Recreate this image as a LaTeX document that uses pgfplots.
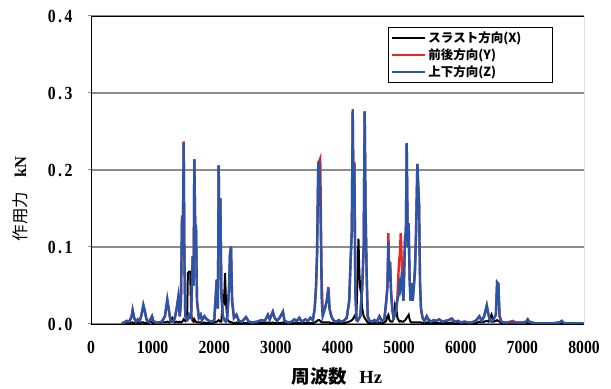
\documentclass[border=0pt]{standalone}
\usepackage{pgfplots}
\usepackage{pgfplotstable}
\pgfplotsset{compat=1.18}
\usepackage{fontspec}
\setmainfont{Liberation Serif}
\newfontfamily\numfont{Liberation Serif}[FakeStretch=0.85]
\newfontfamily\jp{Noto Sans CJK JP}
\definecolor{cred}{RGB}{232,40,40}
\definecolor{cblue}{RGB}{40,86,168}
\definecolor{cgrid}{RGB}{140,140,140}
\pgfplotstableread{
f X Y Z
500 0.001 0.001 0.001
540 0.001 0.002 0.002
580 0.002 0.004 0.004
620 0.001 0.003 0.003
660 0.002 0.010 0.010
676 0.002 0.018 0.018
700 0.001 0.008 0.008
730 0.001 0.003 0.003
760 0.002 0.006 0.006
790 0.001 0.004 0.004
820 0.002 0.012 0.012
849 0.002 0.024 0.025
870 0.001 0.018 0.018
900 0.002 0.006 0.006
930 0.001 0.003 0.003
960 0.004 0.005 0.005
990 0.002 0.010 0.010
1010 0.001 0.004 0.004
1050 0.001 0.002 0.002
1100 0.001 0.002 0.002
1150 0.002 0.003 0.003
1200 0.002 0.010 0.010
1238 0.003 0.031 0.032
1260 0.002 0.020 0.020
1290 0.003 0.004 0.004
1320 0.008 0.003 0.003
1340 0.006 0.004 0.004
1360 0.002 0.008 0.008
1390 0.003 0.020 0.020
1417 0.002 0.035 0.035
1440 0.003 0.010 0.010
1460 0.002 0.030 0.030
1477 0.003 0.141 0.139
1490 0.004 0.100 0.100
1504 0.006 0.237 0.235
1515 0.005 0.090 0.090
1530 0.004 0.010 0.010
1560 0.010 0.005 0.005
1572 0.066 0.006 0.006
1590 0.068 0.012 0.012
1610 0.068 0.010 0.008
1625 0.012 0.008 0.008
1650 0.004 0.088 0.087
1665 0.003 0.050 0.050
1677 0.006 0.214 0.213
1690 0.004 0.130 0.130
1704 0.003 0.126 0.126
1720 0.002 0.030 0.030
1750 0.002 0.008 0.008
1780 0.002 0.012 0.012
1800 0.001 0.005 0.005
1840 0.002 0.010 0.010
1880 0.001 0.006 0.006
1920 0.001 0.004 0.004
1960 0.001 0.003 0.003
2000 0.002 0.005 0.005
2040 0.003 0.058 0.057
2060 0.004 0.020 0.020
2072 0.005 0.206 0.206
2085 0.004 0.100 0.100
2099 0.003 0.163 0.163
2115 0.003 0.040 0.040
2140 0.035 0.010 0.010
2160 0.030 0.006 0.006
2175 0.066 0.004 0.004
2190 0.030 0.004 0.003
2210 0.006 0.008 0.008
2240 0.003 0.046 0.045
2255 0.003 0.091 0.090
2272 0.002 0.101 0.100
2290 0.002 0.030 0.030
2320 0.001 0.008 0.008
2360 0.002 0.012 0.012
2400 0.001 0.004 0.004
2450 0.001 0.003 0.003
2515 0.001 0.009 0.009
2560 0.001 0.003 0.003
2620 0.001 0.002 0.002
2700 0.001 0.003 0.003
2760 0.001 0.005 0.005
2820 0.001 0.004 0.004
2870 0.002 0.012 0.012
2900 0.001 0.006 0.006
2950 0.002 0.016 0.016
2980 0.001 0.008 0.008
3020 0.001 0.004 0.004
3060 0.001 0.008 0.008
3115 0.002 0.016 0.016
3140 0.001 0.004 0.004
3200 0.001 0.002 0.002
3260 0.001 0.003 0.003
3300 0.001 0.006 0.006
3340 0.001 0.004 0.004
3380 0.001 0.008 0.008
3420 0.001 0.003 0.003
3480 0.001 0.006 0.006
3520 0.001 0.004 0.004
3560 0.001 0.008 0.008
3600 0.001 0.005 0.005
3630 0.002 0.020 0.020
3651 0.003 0.047 0.047
3668 0.004 0.090 0.090
3688 0.005 0.210 0.207
3705 0.005 0.212 0.209
3720 0.004 0.215 0.170
3733 0.003 0.120 0.100
3744 0.002 0.055 0.030
3760 0.002 0.015 0.010
3790 0.002 0.020 0.018
3810 0.002 0.025 0.024
3825 0.002 0.030 0.030
3852 0.002 0.048 0.046
3870 0.002 0.020 0.020
3900 0.001 0.010 0.010
3940 0.001 0.004 0.004
3980 0.001 0.003 0.003
4020 0.001 0.005 0.005
4060 0.001 0.003 0.003
4100 0.001 0.004 0.004
4150 0.002 0.008 0.008
4190 0.003 0.030 0.030
4214 0.004 0.086 0.085
4232 0.005 0.120 0.120
4247 0.006 0.279 0.278
4260 0.008 0.150 0.150
4274 0.010 0.211 0.208
4290 0.008 0.040 0.040
4310 0.020 0.005 0.005
4325 0.060 0.004 0.004
4340 0.111 0.006 0.006
4355 0.065 0.008 0.008
4370 0.045 0.010 0.010
4385 0.040 0.030 0.030
4400 0.020 0.045 0.045
4425 0.010 0.100 0.100
4441 0.008 0.276 0.276
4455 0.006 0.150 0.150
4474 0.004 0.061 0.061
4490 0.002 0.010 0.010
4520 0.001 0.004 0.004
4560 0.001 0.003 0.003
4600 0.002 0.005 0.005
4640 0.001 0.003 0.003
4680 0.002 0.010 0.010
4720 0.001 0.004 0.004
4760 0.002 0.006 0.006
4790 0.004 0.030 0.028
4810 0.010 0.048 0.048
4826 0.012 0.118 0.107
4840 0.006 0.060 0.055
4853 0.004 0.081 0.080
4870 0.003 0.040 0.040
4890 0.003 0.020 0.018
4910 0.006 0.008 0.008
4934 0.025 0.012 0.012
4955 0.020 0.020 0.020
4972 0.008 0.035 0.031
4998 0.004 0.081 0.040
5012 0.003 0.090 0.060
5026 0.004 0.118 0.050
5047 0.003 0.070 0.068
5070 0.003 0.030 0.030
5096 0.005 0.113 0.112
5110 0.006 0.120 0.120
5123 0.008 0.235 0.235
5140 0.010 0.100 0.100
5155 0.012 0.131 0.129
5170 0.006 0.060 0.060
5185 0.003 0.030 0.030
5203 0.002 0.053 0.053
5220 0.002 0.030 0.030
5240 0.002 0.050 0.050
5258 0.002 0.076 0.068
5275 0.002 0.120 0.120
5296 0.002 0.208 0.208
5310 0.002 0.180 0.180
5323 0.002 0.158 0.157
5340 0.002 0.050 0.050
5355 0.002 0.020 0.020
5380 0.001 0.008 0.008
5410 0.001 0.004 0.004
5448 0.002 0.010 0.010
5480 0.001 0.006 0.004
5520 0.001 0.003 0.003
5560 0.001 0.005 0.005
5600 0.001 0.004 0.004
5650 0.001 0.006 0.006
5700 0.001 0.003 0.003
5750 0.001 0.004 0.004
5800 0.001 0.005 0.005
5854 0.002 0.007 0.007
5900 0.001 0.003 0.003
5960 0.001 0.004 0.004
6000 0.001 0.002 0.002
6060 0.001 0.003 0.003
6120 0.001 0.002 0.002
6180 0.001 0.002 0.002
6240 0.001 0.004 0.004
6303 0.003 0.010 0.010
6340 0.002 0.004 0.004
6380 0.003 0.010 0.010
6422 0.004 0.024 0.024
6450 0.003 0.012 0.012
6480 0.008 0.004 0.004
6500 0.012 0.003 0.003
6530 0.003 0.006 0.006
6570 0.004 0.012 0.012
6590 0.005 0.054 0.054
6610 0.004 0.052 0.052
6630 0.003 0.010 0.010
6660 0.001 0.003 0.003
6700 0.001 0.002 0.002
6760 0.001 0.002 0.002
6840 0.001 0.004 0.002
6900 0.001 0.002 0.002
6960 0.001 0.002 0.002
7020 0.001 0.002 0.002
7060 0.001 0.003 0.003
7087 0.002 0.006 0.006
7110 0.001 0.003 0.003
7200 0.001 0.001 0.001
7300 0.001 0.001 0.001
7400 0.001 0.001 0.001
7500 0.001 0.001 0.001
7600 0.001 0.002 0.002
7640 0.001 0.004 0.004
7680 0.001 0.001 0.001
7800 0.001 0.001 0.001
7900 0.001 0.001 0.001
7990 0.001 0.001 0.001
}\spectrum
\begin{document}
\begin{tikzpicture}
\begin{axis}[
  scale only axis,
  width=493pt, height=308pt,
  xmin=0, xmax=8000, ymin=0, ymax=0.4,
  xtick={0,1000,...,8000},
  xticklabels={0,1000,2000,3000,4000,5000,6000,7000,8000},
  ytick={0,0.1,0.2,0.3,0.4},
  yticklabels={0\kern2.5pt.\kern2.5pt0,0\kern2.5pt.\kern2.5pt1,0\kern2.5pt.\kern2.5pt2,0\kern2.5pt.\kern2.5pt3,0\kern2.5pt.\kern2.5pt4},
  x tick label style={yshift=-11pt},
  y tick label style={xshift=-12pt},
  tick label style={font=\numfont\bfseries\fontsize{18.5}{20}\selectfont},
  xtick style={draw=none},
  ytick style={draw=cgrid, line width=1pt},
  tick align=outside, major tick length=3pt,
  ymajorgrids, grid style={cgrid, line width=1.2pt},
  axis line style={black, line width=0.8pt},
  axis x line*=bottom, axis y line*=left,
  xlabel={{\jp\bfseries 周波数}\hspace{12pt}\textbf{Hz}},
  ylabel={{\jp 作用力}\hspace{14pt}\textbf{kN}},
  xlabel style={at={(axis description cs:0.499,-0.169)}, anchor=center, font=\fontsize{18.5}{20}\selectfont},
  ylabel style={at={(axis description cs:-0.144,0.406)}, anchor=center, font=\fontsize{16.5}{18}\selectfont},
  legend cell align=left,
  legend style={at={(axis description cs:0.602,0.964)}, anchor=north west, draw=black, line width=0.6pt,
    font=\jp\bfseries\fontsize{12.5}{14}\selectfont, row sep=1pt, inner xsep=3pt, inner ysep=2pt,
    nodes={inner sep=2pt}},
  legend image code/.code={\path (0pt,0pt) -- (33pt,0pt); \draw[#1, line width=1.5pt] (7pt,0pt) -- (26pt,0pt);},
]
\addplot[black, line width=2pt] table[x=f, y=X] {\spectrum};
\addplot[cred, line width=2.4pt] table[x=f, y=Y] {\spectrum};
\addplot[cblue, line width=2.4pt] table[x=f, y=Z] {\spectrum};
\legend{スラスト方向(X)\rule{26pt}{0pt}, 前後方向(Y), 上下方向(Z)}
\draw[black, line width=0.8pt] (rel axis cs:0,1) -- (rel axis cs:1,1) -- (rel axis cs:1,0);
\end{axis}
\pgfresetboundingbox
\path (current axis.south west) ++(-91pt,-65pt) coordinate (a);
\path (current axis.north east) ++(27pt,16pt) coordinate (b);
\path (a) rectangle (b);
\end{tikzpicture}
\end{document}
